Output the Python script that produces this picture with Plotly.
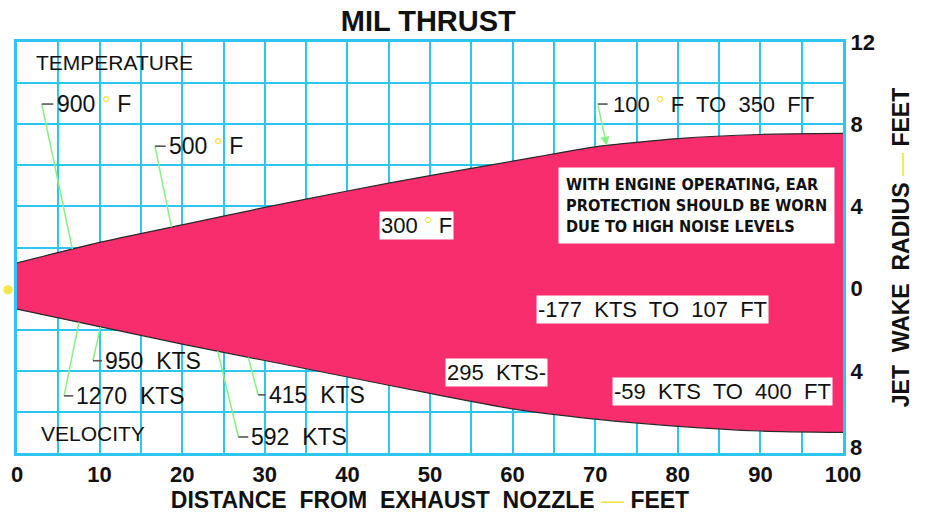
import numpy as np
import plotly.graph_objects as go

# Jet wake envelope, MIL thrust (radius in feet vs. distance from nozzle in feet)
distance_ft = [0, 10, 20, 30, 40, 50, 60, 70, 80, 90, 100]
upper_radius_ft = [1.25, 2.25, 3.1, 3.95, 4.75, 5.5, 6.2, 6.9, 7.3, 7.5, 7.55]
lower_radius_ft = [-1.0, -1.85, -2.7, -3.5, -4.3, -5.1, -5.85, -6.35, -6.7, -6.93, -7.0]

x_ticks = list(range(0, 101, 5))
x_tick_text = [str(v) if v % 10 == 0 else "" for v in x_ticks]
y_ticks = list(range(-8, 13, 2))
# the lowest radius label sits a little above its grid line, drawn separately
y_tick_text = [str(abs(v)) if (v % 4 == 0 and v != -8) else "" for v in y_ticks]

# Temperature call-outs (upper edge) and velocity call-outs (lower edge)
DEG = "<span style='color:#f2e24a'>°</span>"
temp_labels = ["900 " + DEG + " F", "500 " + DEG + " F"]
temp_at_ft = [6.7, 18.7]
vel_labels = ["950  KTS", "1270  KTS", "592  KTS", "415  KTS"]
vel_at_ft = [10.1, 7.5, 24.3, 28.0]

CYAN = "#2cc6f0"
PINK = "#f72d6e"
GREEN = "#86f086"
DASH = "#555555"
FONT = "Liberation Sans"
X_MIN, X_MAX = 0, 100

fig = go.Figure()

# filled wake envelope: lower edge, then upper edge filled down to it
fig.add_trace(go.Scatter(
    x=distance_ft, y=lower_radius_ft, mode="lines",
    line=dict(color="#2a2a2a", width=1.2, shape="spline", smoothing=0.6),
    hoverinfo="skip", showlegend=False))
fig.add_trace(go.Scatter(
    x=distance_ft, y=upper_radius_ft, mode="lines", fill="tonexty", fillcolor=PINK,
    line=dict(color="#2a2a2a", width=1.2, shape="spline", smoothing=0.6),
    hoverinfo="skip", showlegend=False))

shapes = []
annotations = []

# nozzle centre marker, just left of the plotting area
annotations.append(dict(x=0, y=0, xref="paper", yref="y", xanchor="center", xshift=-9,
                        text="●", showarrow=False,
                        font=dict(family="DejaVu Sans", size=12, color="#f6e842")))

# bottom radius label
annotations.append(dict(x=1, y=-8, xref="paper", yref="y", xanchor="left", xshift=5,
                        yshift=6, text="8", showarrow=False,
                        font=dict(family=FONT, size=22, color="#111", weight="bold")))


def callout(text, dash_x0, dash_x1, y, text_x, edge_x, edge):
    edge_y = float(np.interp(edge_x, distance_ft, edge))
    shapes.append(dict(type="line", xref="x", yref="y", x0=dash_x0, y0=y,
                       x1=edge_x, y1=edge_y, line=dict(color=GREEN, width=1.5)))
    shapes.append(dict(type="line", xref="x", yref="y", x0=dash_x0, y0=y,
                       x1=dash_x1, y1=y, line=dict(color=DASH, width=1.6)))
    annotations.append(dict(x=text_x, y=y, xref="x", yref="y", text=text,
                            showarrow=False, xanchor="left", yanchor="middle",
                            font=dict(family=FONT, size=23, color="#111")))


callout(temp_labels[0], 3.0, 4.4, 8.98, 4.6, temp_at_ft[0], upper_radius_ft)
callout(temp_labels[1], 16.7, 18.0, 6.93, 18.2, temp_at_ft[1], upper_radius_ft)
callout(vel_labels[0], 9.2, 10.3, -3.51, 10.4, vel_at_ft[0], lower_radius_ft)
callout(vel_labels[1], 5.7, 6.8, -5.22, 6.9, vel_at_ft[1], lower_radius_ft)
callout(vel_labels[2], 26.8, 28.0, -7.22, 28.1, vel_at_ft[2], lower_radius_ft)
callout(vel_labels[3], 29.2, 30.1, -5.17, 30.3, vel_at_ft[3], lower_radius_ft)

# 100 F call-out with arrow onto the upper edge
far_x = 71.4
shapes.append(dict(type="line", xref="x", yref="y", x0=70.3, y0=8.98,
                   x1=71.5, y1=8.98, line=dict(color=DASH, width=1.6)))
annotations.append(dict(x=far_x, y=float(np.interp(far_x, distance_ft, upper_radius_ft)),
                        ax=70.3, ay=8.98, axref="x", ayref="y", xref="x", yref="y",
                        text="", showarrow=True, arrowhead=2, arrowsize=1.2,
                        arrowwidth=1.5, arrowcolor=GREEN, standoff=0))
annotations.append(dict(x=71.9, y=8.98, xref="x", yref="y",
                        text="100 " + DEG + " F  TO  350  FT", showarrow=False,
                        xanchor="left", yanchor="middle",
                        font=dict(family=FONT, size=22, color="#111")))

# section headings
for txt, x, y in (("TEMPERATURE", 2.0, 10.98), ("VELOCITY", 2.7, -7.07)):
    annotations.append(dict(x=x, y=y, xref="x", yref="y", text=txt, showarrow=False,
                            xanchor="left", yanchor="middle",
                            font=dict(family=FONT, size=21, color="#111")))

# white-boxed labels inside the wake
for txt, x, y in (("300 " + DEG + " F", 48.4, 3.07),
                  ("-177  KTS  TO  107  FT", 76.9, -1.02),
                  ("295  KTS-", 58.1, -4.1),
                  ("-59  KTS  TO  400  FT", 85.4, -5.02)):
    annotations.append(dict(x=x, y=y, xref="x", yref="y", text=txt, showarrow=False,
                            bgcolor="white", borderpad=1,
                            font=dict(family=FONT, size=22, color="#111")))

annotations.append(dict(
    x=82.3, y=4.05, xref="x", yref="y", showarrow=False, align="left",
    bgcolor="white", borderpad=7,
    text="WITH ENGINE OPERATING, EAR<br>PROTECTION SHOULD BE WORN<br>DUE TO HIGH NOISE LEVELS",
    font=dict(family="DejaVu Sans Condensed", size=16.2, color="#111", weight="bold")))

YEL_DASH = "<span style='color:#f2e24a;font-weight:normal'> — </span>"

fig.update_layout(
    width=925, height=515,
    margin=dict(l=17, r=82, t=42, b=62),
    paper_bgcolor="white", plot_bgcolor="white",
    title=dict(text="MIL THRUST", x=0.463, xanchor="center", y=0.96, yanchor="middle",
               font=dict(family=FONT, size=29, color="#111", weight="bold")),
    xaxis=dict(range=[X_MIN, X_MAX], tickvals=x_ticks, ticktext=x_tick_text,
               automargin=False,
               showgrid=True, gridcolor=CYAN, gridwidth=1.6, zeroline=False,
               showline=True, linecolor=CYAN, linewidth=3, mirror=True, ticks="",
               tickfont=dict(family=FONT, size=22, color="#111", weight="bold"),
               title=dict(text="DISTANCE  FROM  EXHAUST  NOZZLE" + YEL_DASH + "FEET",
                          standoff=6,
                          font=dict(family=FONT, size=23, color="#111", weight="bold"))),
    yaxis=dict(range=[-8, 12], tickvals=y_ticks, ticktext=y_tick_text, side="right",
               automargin=False,
               showgrid=True, gridcolor=CYAN, gridwidth=1.6, zeroline=False,
               showline=True, linecolor=CYAN, linewidth=3, mirror=True, ticks="",
               tickfont=dict(family=FONT, size=22, color="#111", weight="bold"),
               title=dict(text="JET  WAKE  RADIUS" + YEL_DASH + "FEET", standoff=20,
                          font=dict(family=FONT, size=23, color="#111", weight="bold"))),
    shapes=shapes, annotations=annotations,
)

fig.write_html("out.html")
